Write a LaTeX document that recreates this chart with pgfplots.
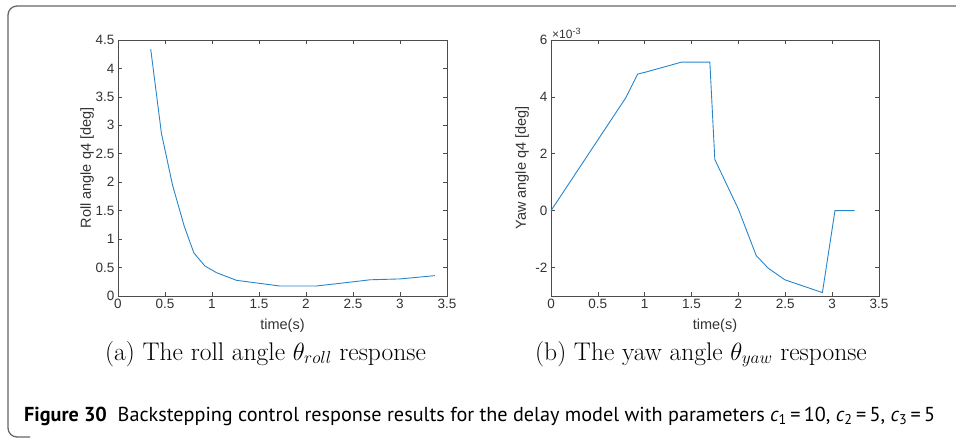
\documentclass[border=0pt]{standalone}
\usepackage{fontspec}
\usepackage{pgfplots}
\pgfplotsset{compat=1.18}
\newfontfamily\arial{Liberation Sans}
\newfontfamily\ptsans{PT Sans}
\definecolor{mblue}{rgb}{0.15,0.52,0.80}
\definecolor{axgray}{rgb}{0.3,0.3,0.3}
\definecolor{txtgray}{rgb}{0.2,0.2,0.2}
\pgfplotsset{mstyle/.style={
  scale only axis, width=329pt, height=256pt,
  axis line style={axgray, line width=0.8pt},
  tick style={axgray, line width=0.6pt},
  tick align=inside, major tick length=4pt,
  xtick pos=both, ytick pos=both,
  ticklabel style={font=\arial\fontsize{13.5}{15}\selectfont, text=txtgray},
  /pgf/number format/assume math mode=true,
  label style={font=\arial\fontsize{14.5}{16}\selectfont, text=txtgray},
  xmin=0, xmax=3.5, xtick={0,0.5,1,1.5,2,2.5,3,3.5},
  xticklabels={0,0.5,1,1.5,2,2.5,3,3.5},
  clip=false,
}}
\begin{document}
\begin{tikzpicture}
\useasboundingbox (0pt,0pt) rectangle (956pt,437pt);
% frame
\draw[gray!80!black, line width=1.3pt, rounded corners=9pt] (980pt,431pt) -- (8pt,431pt) -- (8pt,0pt) -- (30pt,0pt);

\begin{axis}[mstyle, at={(118pt,141pt)}, anchor=south west,
  ymin=0, ymax=4.5, ytick={0,0.5,1,1.5,2,2.5,3,3.5,4,4.5},
  yticklabels={0,0.5,1,1.5,2,2.5,3,3.5,4,4.5},
  xlabel={time(s)}, ylabel={Roll angle q4 [deg]},
  xlabel style={at={(axis description cs:0.5,-0.117)}, anchor=center},
  ylabel style={at={(axis description cs:-0.094,0.5)}, anchor=center},
]
\addplot[mblue, line width=0.9pt, no markers] coordinates {
(0.348,4.34) (0.462,2.86) (0.58,1.95) (0.704,1.23) (0.807,0.757)
(0.924,0.528) (1.048,0.41) (1.26,0.276) (1.475,0.229) (1.72,0.176)
(2.11,0.176) (2.33,0.217) (2.58,0.265) (2.68,0.285) (3.0,0.300) (3.37,0.358)
};
\end{axis}

\begin{axis}[mstyle, at={(551pt,141pt)}, anchor=south west, width=328pt,
  ymin=-0.003, ymax=0.006, ytick={-0.002,0,0.002,0.004,0.006},
  scaled y ticks=false, yticklabels={-2,0,2,4,6},
  xlabel={time(s)}, ylabel={Yaw angle q4 [deg]},
  xlabel style={at={(axis description cs:0.5,-0.117)}, anchor=center},
  ylabel style={at={(axis description cs:-0.088,0.5)}, anchor=center},
]
\addplot[mblue, line width=0.9pt, no markers] coordinates {
(0,0) (0.80,0.00398) (0.924,0.00480) (1.02,0.00488) (1.39,0.00522)
(1.695,0.00522) (1.748,0.00180) (2.0,0.00005) (2.19,-0.00158)
(2.317,-0.00202) (2.495,-0.00243) (2.896,-0.00288) (3.03,0) (3.24,0)
};
\node[anchor=south west, inner sep=1pt, font=\arial\fontsize{12}{14}\selectfont, text=txtgray] at (rel axis cs:0,1) {×10\raisebox{0.6ex}{\fontsize{9}{10}\selectfont -3}};
\end{axis}

\node[anchor=base west, inner sep=0pt, font=\fontsize{25.5}{28}\selectfont] at (105pt,77pt) {(a) The roll angle $\theta_{roll}$ response};
\node[anchor=base west, inner sep=0pt, font=\fontsize{25.5}{28}\selectfont] at (535pt,77pt) {(b) The yaw angle $\theta_{yaw}$ response};

\node[anchor=base west, inner sep=0pt] at (24pt,16pt) {\resizebox{911pt}{!}{\ptsans\fontsize{17}{20}\selectfont\textbf{Figure 30}\ \ Backstepping control response results for the delay model with parameters {\itshape c}\textsubscript{1}\,=\,10, {\itshape c}\textsubscript{2}\,=\,5, {\itshape c}\textsubscript{3}\,=\,5}};
\end{tikzpicture}
\end{document}
